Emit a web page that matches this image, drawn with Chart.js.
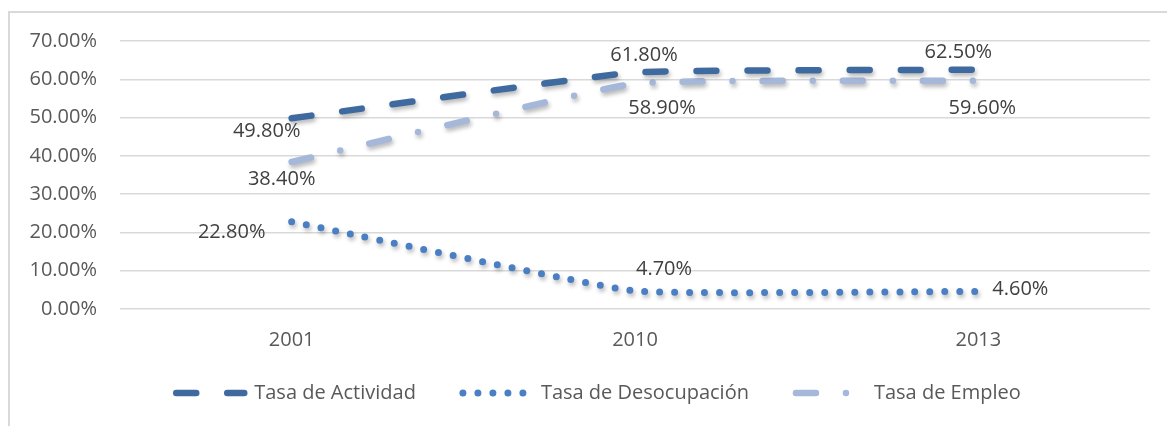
<!DOCTYPE html>
<html>
<head>
<meta charset="utf-8">
<script src="https://cdn.jsdelivr.net/npm/chart.js@4.4.1/dist/chart.umd.min.js"></script>
<style>
  html, body { margin: 0; padding: 0; background: #ffffff; overflow: hidden; }
  #frame { position: absolute; left: 8px; top: 11px; width: 1300px; height: 500px;
           border-left: 2px solid #d9d9d9; border-top: 2px solid #d9d9d9; }
  #wrap { position: absolute; left: 0; top: 0; width: 1167px; height: 426px; }
</style>
</head>
<body>
<div id="frame"></div>
<div id="wrap"><canvas id="c" width="1167" height="426"></canvas></div>
<script>
// ---- data ----
const categories = ['2001', '2010', '2013'];
const seriesNames = ['Tasa de Actividad', 'Tasa de Desocupación', 'Tasa de Empleo'];
const actividad = [49.8, 61.8, 62.5];
const desocupacion = [22.8, 4.7, 4.6];
const empleo = [38.4, 58.9, 59.6];
const yTicks = [0, 10, 20, 30, 40, 50, 60, 70];

// ---- styles ----
const FONT = "'Open Sans', 'DejaVu Sans', sans-serif";
const LEGEND_PAD = 47;
const TENSION = 0.1;
// label offsets (dx, dy) from each point, in pixels
const labelOffsets = [
  [[-25, 13], [9, -17], [-20, -17.5]],
  [[-60, 11], [29, -22], [42, -2]],
  [[-10, 17.5], [27, 25], [4, 27]]
];

const labelPlugin = {
  id: 'shadowAndLabels',
  afterLayout(chart) {
    const lg = chart.legend;
    if (lg) {
      lg.top = lg.bottom - 20 - (LEGEND_PAD + 10);
      lg.left = 47;
    }
  },
  beforeDatasetsDraw(chart) {
    const ctx = chart.ctx;
    ctx.save();
    ctx.shadowColor = 'rgba(0,0,0,0.28)';
    ctx.shadowBlur = 4;
    ctx.shadowOffsetX = 1.5;
    ctx.shadowOffsetY = 3;
  },
  afterDatasetsDraw(chart) {
    const ctx = chart.ctx;
    ctx.restore();
    ctx.save();
    ctx.font = '20px ' + FONT;
    ctx.fillStyle = '#404040';
    ctx.textAlign = 'center';
    ctx.textBaseline = 'middle';
    chart.data.datasets.forEach((ds, i) => {
      const meta = chart.getDatasetMeta(i);
      meta.data.forEach((pt, j) => {
        const off = labelOffsets[i][j];
        ctx.fillText(ds.data[j].toFixed(2) + '%', pt.x + off[0], pt.y + off[1]);
      });
    });
    ctx.restore();
  }
};

new Chart(document.getElementById('c'), {
  type: 'line',
  data: {
    labels: categories,
    datasets: [
      { label: seriesNames[0], data: actividad, borderColor: '#3E6A9F', backgroundColor: '#3E6A9F',
        borderWidth: 6.5, borderDash: [20, 31], borderCapStyle: 'round',
        pointRadius: 0, tension: TENSION, fill: false },
      { label: seriesNames[1], data: desocupacion, borderColor: '#4B7FC3', backgroundColor: '#4B7FC3',
        borderWidth: 7, borderDash: [0, 15], borderCapStyle: 'round',
        pointRadius: 0, tension: TENSION, fill: false },
      { label: seriesNames[2], data: empleo, borderColor: '#A6B8DA', backgroundColor: '#A6B8DA',
        borderWidth: 6.5, borderDash: [20, 30, 0, 30], borderCapStyle: 'round',
        pointRadius: 0, tension: TENSION, fill: false }
    ]
  },
  options: {
    responsive: false,
    animation: false,
    events: [],
    layout: { padding: { left: 0, right: 17, top: 41, bottom: 13 } },
    plugins: {
      tooltip: { enabled: false },
      legend: {
        position: 'bottom',
        maxHeight: 40,
        labels: {
          usePointStyle: true,
          pointStyle: 'line',
          pointStyleWidth: 68,
          padding: LEGEND_PAD,
          color: '#595959',
          font: { family: FONT, size: 20 },
          generateLabels(chart) {
            const items = Chart.defaults.plugins.legend.labels.generateLabels(chart);
            items.forEach(it => {
              const ds = chart.data.datasets[it.datasetIndex];
              it.lineDash = ds.borderDash;
              it.lineCap = ds.borderCapStyle;
              it.lineWidth = ds.borderWidth;
              it.strokeStyle = ds.borderColor;
              it.fillStyle = ds.borderColor;
              it.pointStyle = 'line';
            });
            return items;
          }
        }
      }
    },
    scales: {
      x: {
        type: 'category',
        offset: true,
        grid: { display: false, drawTicks: false },
        border: { display: false },
        ticks: { color: '#595959', padding: 19, font: { family: FONT, size: 20 }, maxRotation: 0 },
        afterFit(scale) { scale.height = 64; }
      },
      y: {
        min: 0, max: 70,
        afterBuildTicks(scale) { scale.ticks = yTicks.map(v => ({ value: v })); },
        grid: { color: '#d9d9d9', lineWidth: 1.5, drawTicks: false },
        border: { display: false },
        ticks: { color: '#595959', padding: 23, font: { family: FONT, size: 20 },
                 callback: v => Number(v).toFixed(2) + '%' },
        afterFit(scale) { scale.width = 120; }
      }
    }
  },
  plugins: [labelPlugin]
});
</script>
</body>
</html>
